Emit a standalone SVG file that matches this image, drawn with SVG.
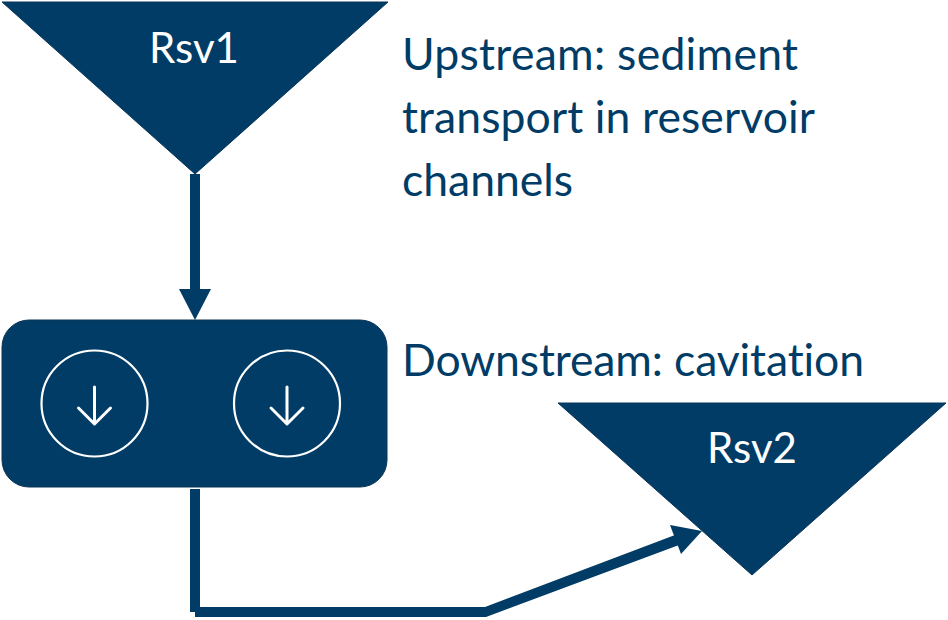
<svg xmlns="http://www.w3.org/2000/svg" width="948" height="620" viewBox="0 0 948 620">
<style>
.s{fill:#003c66}
.e{fill:#003c66;stroke:#0b3557;stroke-width:1}
.t{font-family:"Lato","Open Sans",sans-serif;font-size:44.500px;fill:#003c66;font-variant-ligatures:none}
.w{font-family:"Lato","Open Sans",sans-serif;font-size:42px;fill:#fff;text-anchor:middle}
.o{fill:none;stroke:#fff;stroke-width:2.200}
.a{fill:none;stroke:#fff;stroke-width:3;stroke-linecap:round;stroke-linejoin:round}
</style>
<g id="rsv1"><polygon class="e" points="2,2 388,2 195,174"/><text class="w" x="194" y="63">Rsv1</text></g>
<g id="station"><rect class="e" x="2" y="320" width="385" height="167" rx="27"/>
<circle class="o" cx="94.500" cy="403.500" r="53"/><path class="a" d="M94.500 387V424M78.500 408L94.500 424L110.500 408"/>
<circle class="o" cx="287" cy="403.500" r="53"/><path class="a" d="M287 387V424M271 408L287 424L303 408"/></g>
<g id="rsv2"><polygon class="e" points="558,403 946,403 752,575"/><text class="w" x="752" y="463">Rsv2</text></g>
<g id="connectors">
<rect class="s" x="190" y="174" width="10" height="116"/>
<polygon class="s" points="179,289 211,289 195,320"/>
<rect class="s" x="190" y="489" width="10" height="123"/>
<polygon class="s" points="195,607 485,607 675,535 679,545 486,617 195,617"/>
<polygon class="s" points="670,525 702,531 681,554"/>
</g>
<g id="labels">
<text class="t" x="402" y="69.500" textLength="396">Upstream: sediment</text>
<text class="t" x="402" y="132.500" textLength="413">transport in reservoir</text>
<text class="t" x="402" y="195.500" textLength="171">channels</text>
<text class="t" x="402" y="376" textLength="462">Downstream: cavitation</text>
</g>
</svg>
